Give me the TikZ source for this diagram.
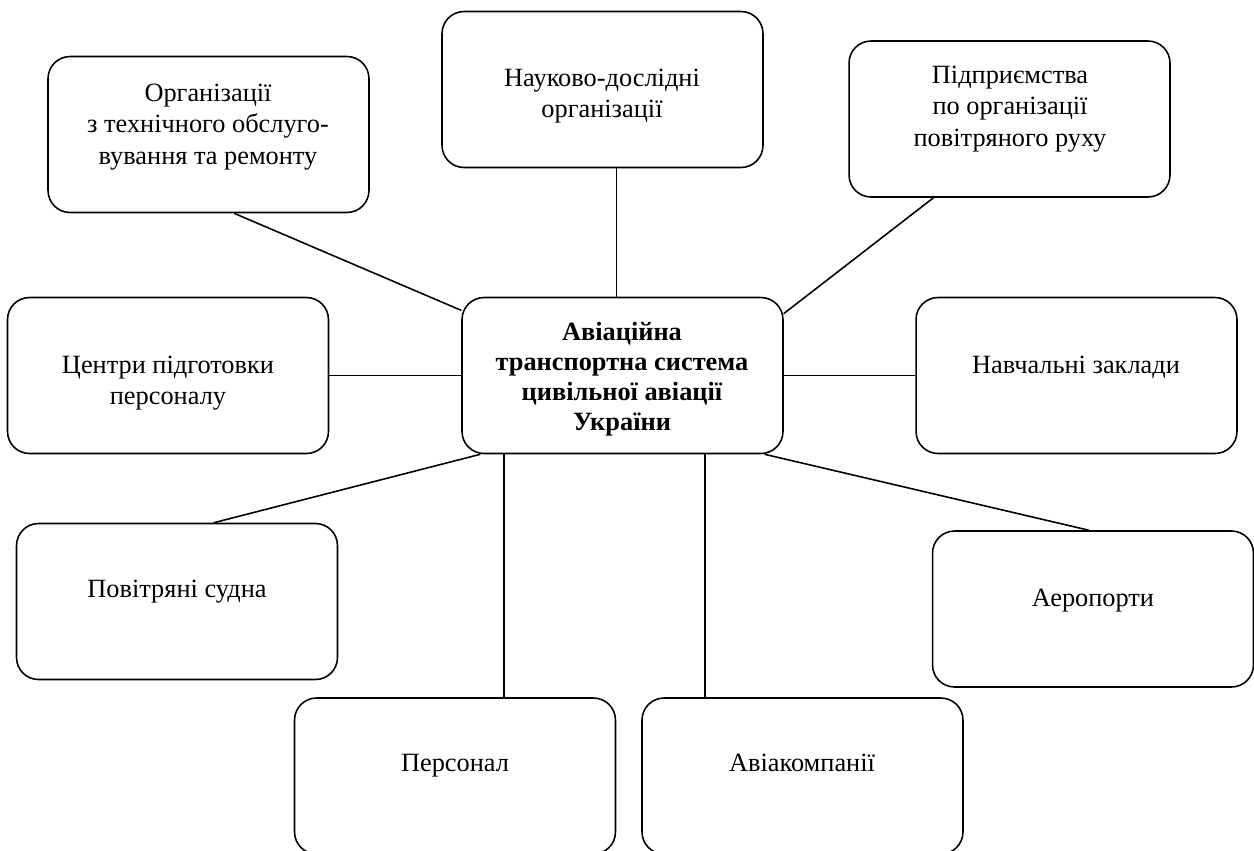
\documentclass[tikz,border=0pt]{standalone}
\usepackage{fontspec}
\setmainfont{Liberation Serif}
\usetikzlibrary{positioning}

\tikzset{
    blok/.style = {draw, rounded corners=0.44cm, line width=0.9pt, minimum width=6.42cm, minimum height=3.12cm, inner sep=0pt},
    txt/.style = {align=center, inner sep=0pt, font=\fontsize{15pt}{18pt}\selectfont},
    txtb/.style = {align=center, inner sep=0pt, font=\fontsize{15pt}{17pt}\selectfont\bfseries},
    lnk/.style = {line width=0.9pt}
}

\begin{document}
\begin{tikzpicture}[x=0.02cm, y=-0.02cm]
    
    \useasboundingbox (0,0) rectangle (1254,850);
    \clip (0,0) rectangle (1254,850);
    
    % boxes
    \node[blok] (org) at (208.5,134.5) {};
    \node[blok] (sci) at (602.5,89.5) {};
    \node[blok] (atm) at (1009.5,119) {};
    \node[blok] (train) at (168,375.5) {};
    \node[blok] (hub) at (622.5,375.5) {};
    \node[blok] (edu) at (1076.5,375.5) {};
    \node[blok] (craft) at (177,601.5) {};
    \node[blok] (port) at (1093,609) {};
    \node[blok] (staff) at (455,776) {};
    \node[blok] (airl) at (802.5,776) {};
    
    % texts
    \node[txt] (org-txt) at (208,127) {Організації\\з технічного обслуго-\\вування та ремонту};
    \node[txt] (sci-txt) at (602,96) {Науково-дослідні\\організації};
    \node[txt] (atm-txt) at (1010,109) {Підприємства\\по організації\\повітряного руху};
    \node[txt] (train-txt) at (168,383) {Центри підготовки\\персоналу};
    \node[txtb] (hub-txt) at (622,379) {Авіаційна\\транспортна система\\цивільної авіації\\України};
    \node[txt] (edu-txt) at (1076,367) {Навчальні заклади};
    \node[txt] (craft-txt) at (177,592) {Повітряні судна};
    \node[txt] (port-txt) at (1093,601) {Аеропорти};
    \node[txt, anchor=base] (staff-txt) at (455,771) {Персонал};
    \node[txt, anchor=base] (airl-txt) at (802,771) {Авіакомпанії};
    
    % links
    \draw[lnk] (org.-72.7) -- (hub.158.4);
    \draw[lnk] (sci.-80.1) -- (sci.-80.1 |- hub.north);
    \draw[lnk] (atm.-134.4) -- (hub.21.6);
    \draw[lnk] (train.east) -- (hub.west);
    \draw[lnk] (hub.east) -- (edu.west);
    \draw[lnk] (hub.-151.2) -- (craft.65.4);
    \draw[lnk] (staff.58.4 |- hub.south) -- (staff.58.4);
    \draw[lnk] (airl.141.9 |- hub.south) -- (airl.141.9);
    \draw[lnk] (hub.-29.7) -- (port.93.7);
    
\end{tikzpicture}
\end{document}
